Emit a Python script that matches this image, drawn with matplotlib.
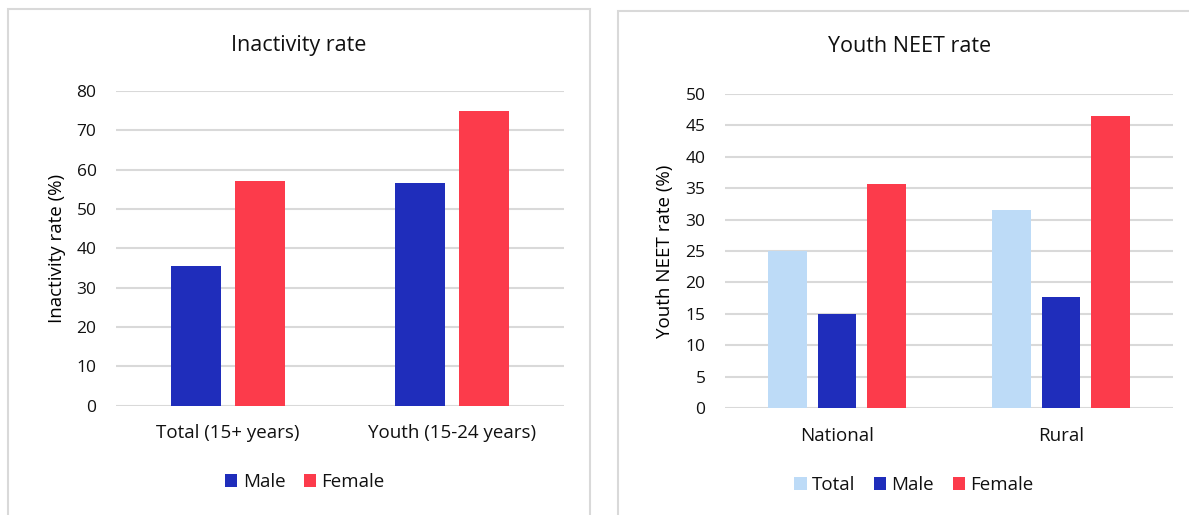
import numpy as np
import matplotlib
matplotlib.use('Agg')
from matplotlib import pyplot as plt
from matplotlib.patches import Rectangle

# Data
inact_cats = ['Total (15+ years)', 'Youth (15-24 years)']
inact_male = [35.4, 56.5]
inact_female = [57.1, 75.0]

neet_cats = ['National', 'Rural']
neet_total = [25.0, 31.6]
neet_male = [15.0, 17.7]
neet_female = [35.7, 46.5]

C_TOTAL = '#BDDBF7'
C_MALE = '#1F2DBB'
C_FEMALE = '#FC3B4B'
GRID = '#D9D9D9'
TXT = '#111111'

plt.rcParams['font.family'] = ['Open Sans', 'DejaVu Sans']
plt.rcParams['font.size'] = 13
plt.rcParams['text.color'] = TXT

W, H = 1189, 515
fig = plt.figure(figsize=(W / 100, H / 100), dpi=100)


def px_axes(x0, y0, x1, y1):
    # pixel box (top-left origin) -> figure axes
    return fig.add_axes([x0 / W, 1 - y1 / H, (x1 - x0) / W, (y1 - y0) / H])


def style(ax, ymax, step, label, lx):
    ax.set_xlim(-0.5, 1.5)
    ax.set_ylim(0, ymax)
    ax.set_yticks(np.arange(0, ymax + 1, step))
    ax.grid(axis='y', color=GRID, linewidth=1.5)
    ax.set_axisbelow(True)
    for s in ax.spines.values():
        s.set_visible(False)
    ax.tick_params(axis='y', length=0, labelsize=12.5, colors=TXT, pad=14)
    ax.tick_params(axis='x', length=0, labelsize=13.5, colors=TXT, pad=13.5)
    ax.set_ylabel(label, fontsize=13.5, va='center')
    ax.yaxis.set_label_coords(lx, 0.5)


def legend(handles, cx, cy):
    fig.legend(handles=handles, loc='center', bbox_to_anchor=(cx / W, 1 - cy / H),
               ncol=len(handles), frameon=False, fontsize=13.5,
               handlelength=0.65, handleheight=0.65,
               handletextpad=0.28, columnspacing=1.0)


# panel frames
fig.patches.append(Rectangle((8 / W, 1 - 540 / H), 582 / W, 531 / H,
                             transform=fig.transFigure, fill=False,
                             edgecolor=GRID, linewidth=1.5))
fig.patches.append(Rectangle((618 / W, 1 - 540 / H), 600 / W, 529 / H,
                             transform=fig.transFigure, fill=False,
                             edgecolor=GRID, linewidth=1.5))

# Left: inactivity rate
ax1 = px_axes(116, 91, 564, 405.7)
x = np.arange(len(inact_cats))
w1 = 0.223
off1 = 0.142
b_m = ax1.bar(x - off1, inact_male, w1, color=C_MALE, label='Male')
b_f = ax1.bar(x + off1, inact_female, w1, color=C_FEMALE, label='Female')
ax1.set_xticks(x)
ax1.set_xticklabels(inact_cats)
style(ax1, 80, 10, 'Inactivity rate (%)', -0.132)
fig.text(299 / W, 1 - 45 / H, 'Inactivity rate', ha='center', va='center', fontsize=15.5)
legend([b_m, b_f], 305, 482)

# Right: youth NEET rate
ax2 = px_axes(725, 94, 1173, 408)
x = np.arange(len(neet_cats))
w2 = 0.174
off2 = 0.221
b_t = ax2.bar(x - off2, neet_total, w2, color=C_TOTAL, label='Total')
b_m2 = ax2.bar(x, neet_male, w2, color=C_MALE, label='Male')
b_f2 = ax2.bar(x + off2, neet_female, w2, color=C_FEMALE, label='Female')
ax2.set_xticks(x)
ax2.set_xticklabels(neet_cats)
style(ax2, 50, 5, 'Youth NEET rate (%)', -0.134)
fig.text(910 / W, 1 - 47 / H, 'Youth NEET rate', ha='center', va='center', fontsize=15.5)
legend([b_t, b_m2, b_f2], 914, 485)

fig.savefig('out.png', dpi=100)
